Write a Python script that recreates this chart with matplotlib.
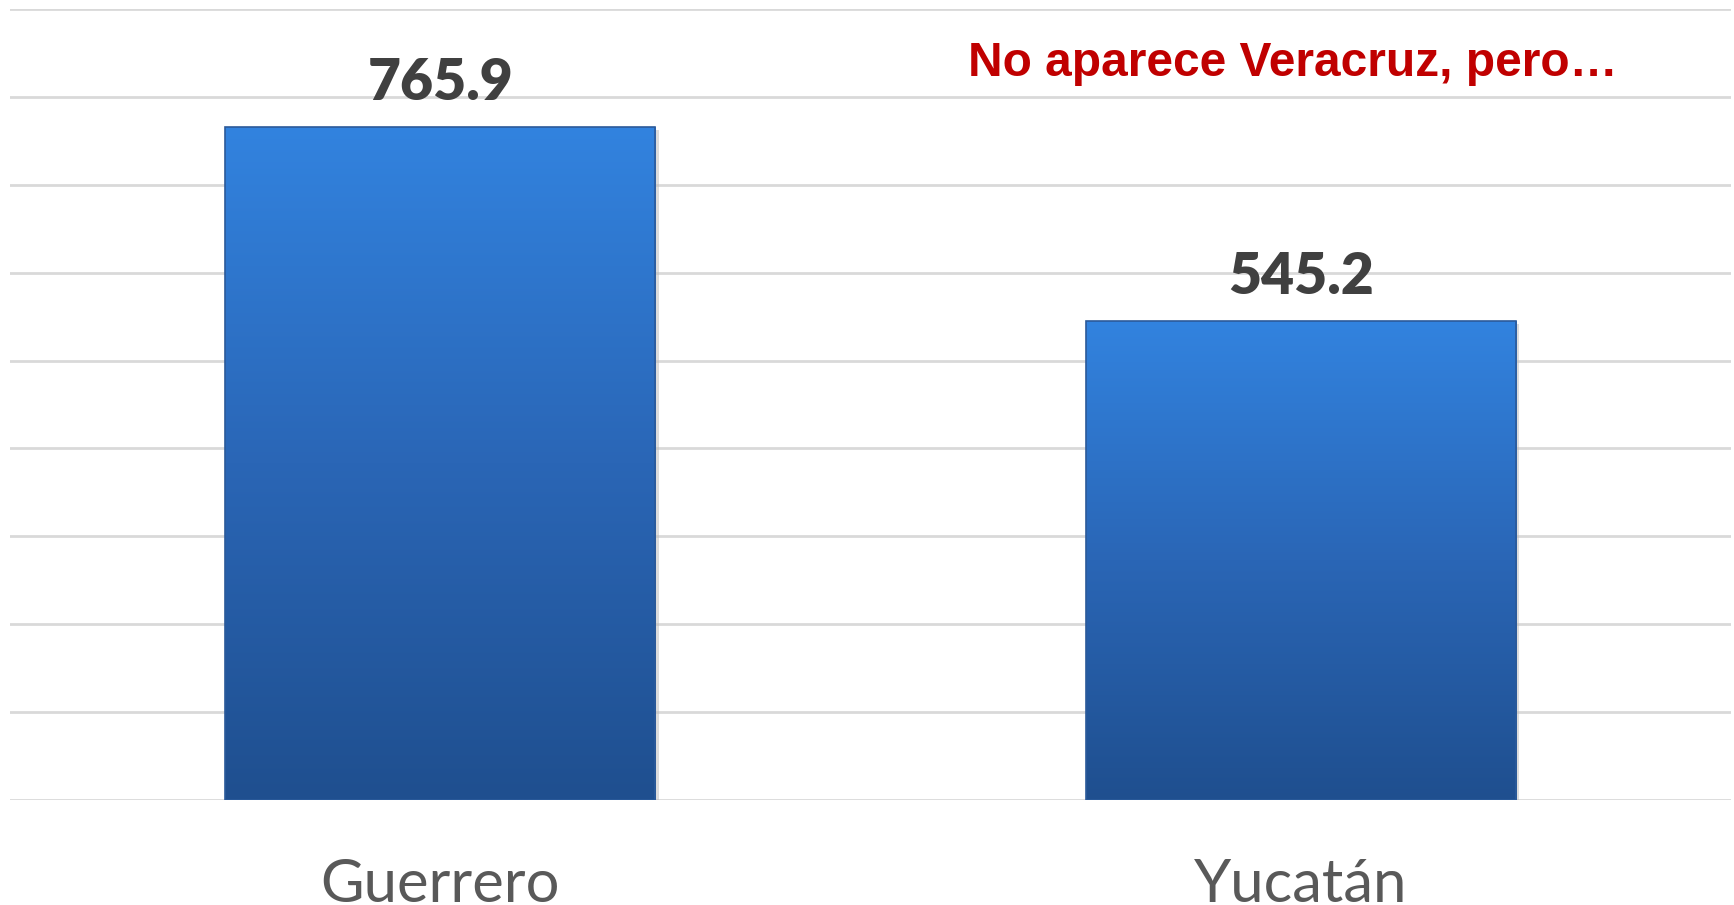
import matplotlib
matplotlib.use("Agg")
import matplotlib.pyplot as plt
import numpy as np
from matplotlib.colors import LinearSegmentedColormap
from matplotlib import font_manager

categories = ["Guerrero", "Yucatán"]
values = [765.9, 545.2]
value_labels = ["765.9", "545.2"]
note = "No aparece Veracruz, pero…"

fig = plt.figure(figsize=(17.34, 9.05), dpi=100)
ax = fig.add_axes([10/1734, 1-800/905, 1721/1734, 791/905])
ax.set_xlim(-0.5, 1.5)
ax.set_ylim(0, 900)

ax.set_yticks(np.arange(0, 901, 100))
ax.yaxis.grid(True, color="#d9d9d9", linewidth=2)
ax.set_axisbelow(True)
for s in ax.spines.values():
    s.set_visible(False)
ax.tick_params(axis="y", left=False, labelleft=False)
ax.tick_params(axis="x", bottom=False, pad=38)
x = np.arange(len(categories))
ax.set_xticks(x)
ax.set_xticklabels(categories, fontsize=43, color="#595959", family="Lato")

cmap = LinearSegmentedColormap.from_list("g", ["#1f4f8f", "#2a66b6", "#3283df"])
bars = ax.bar(x, values, width=0.5, color="none", edgecolor="none", zorder=3)
for b in bars:
    x0, y0 = b.get_x(), b.get_y()
    w, h = b.get_width(), b.get_height()
    ax.bar(x0 + w/2 + 0.004, h, width=w, bottom=-4, color="#bbbbbb", alpha=0.5, zorder=2)
    grad = np.linspace(0, 1, 256).reshape(-1, 1)
    im = ax.imshow(grad, extent=[x0, x0 + w, y0, y0 + h], origin="lower",
                   cmap=cmap, aspect="auto", zorder=3)
    im.set_clip_path(b)
    ax.add_patch(plt.Rectangle((x0, y0), w, h, fill=False, edgecolor="#2b5a9a",
                               linewidth=1.2, zorder=4))
ax.set_xlim(-0.5, 1.5)
ax.set_ylim(0, 900)

for xi, v, lab in zip(x, values, value_labels):
    ax.annotate(lab, (xi, v), xytext=(0, 13), textcoords="offset points",
                ha="center", va="bottom", fontsize=41, fontweight="heavy",
                color="#404040", family="Lato")

fig.text(1293/1734, 1-64/905, note, ha="center", va="center", fontsize=34.5,
         fontweight="bold", color="#c00000", family="Liberation Sans")

fig.savefig("out.png", dpi=100)
